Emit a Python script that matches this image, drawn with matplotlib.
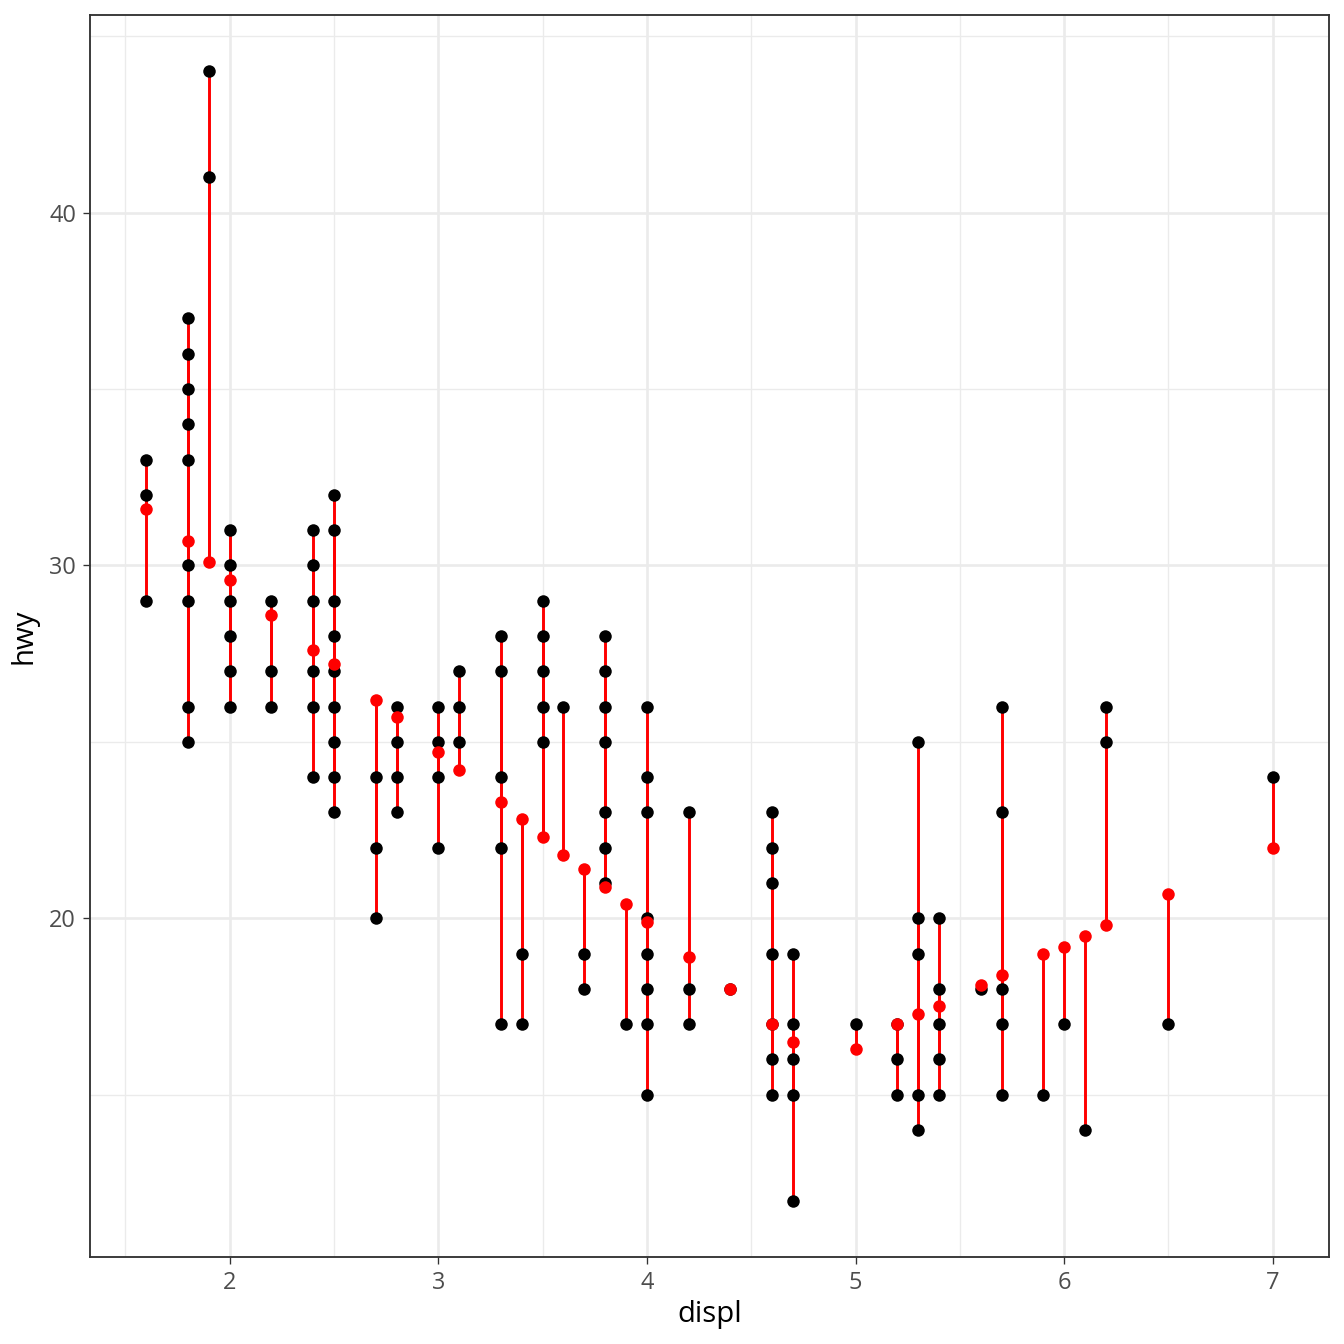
import matplotlib.pyplot as plt

plt.rcParams['font.family'] = ['Open Sans', 'DejaVu Sans']

displ_levels = [1.6, 1.8, 1.9, 2.0, 2.2, 2.4, 2.5, 2.7, 2.8, 3.0, 3.1, 3.3, 3.4, 3.5,
                3.6, 3.7, 3.8, 3.9, 4.0, 4.2, 4.4, 4.6, 4.7, 5.0, 5.2, 5.3, 5.4, 5.6,
                5.7, 5.9, 6.0, 6.1, 6.2, 6.5, 7.0]
hwy_obs = [
    [29, 32, 33],
    [25, 26, 29, 30, 33, 34, 35, 36, 37],
    [41, 44],
    [26, 27, 28, 29, 30, 31],
    [26, 27, 29],
    [24, 26, 27, 29, 30, 31],
    [23, 24, 25, 26, 27, 28, 29, 31, 32],
    [20, 22, 24],
    [23, 24, 25, 26],
    [22, 24, 25, 26],
    [25, 26, 27],
    [17, 22, 24, 27, 28],
    [17, 19],
    [25, 26, 27, 28, 29],
    [26],
    [18, 19],
    [21, 22, 23, 25, 26, 27, 28],
    [17],
    [15, 17, 18, 19, 20, 23, 24, 26],
    [17, 18, 23],
    [18],
    [15, 16, 17, 19, 21, 22, 23],
    [12, 15, 16, 17, 19],
    [17],
    [15, 16, 17],
    [14, 15, 19, 20, 25],
    [15, 16, 17, 18, 20],
    [18],
    [15, 17, 18, 23, 26],
    [15],
    [17],
    [14],
    [25, 26],
    [17],
    [24],
]
# fitted (predicted) hwy at each displacement
hwy_pred = [31.6, 30.7, 30.1, 29.6, 28.6, 27.6, 27.2, 26.2, 25.7, 24.7, 24.2, 23.3,
            22.8, 22.3, 21.8, 21.4, 20.9, 20.4, 19.9, 18.9, 18.0, 17.0, 16.5, 16.3,
            17.0, 17.3, 17.5, 18.1, 18.4, 19.0, 19.2, 19.5, 19.8, 20.7, 22.0]

xs, ys, x_pred, y_pred = [], [], [], []
for d, obs, p in zip(displ_levels, hwy_obs, hwy_pred):
    for h in obs:
        xs.append(d)
        ys.append(h)
        x_pred.append(d)
        y_pred.append(p)

fig = plt.figure(figsize=(7, 7), dpi=192)
ax = fig.add_axes([90 / 1344, 1 - 1257 / 1344, (1329 - 90) / 1344, (1257 - 15) / 1344])

ax.vlines(xs, ys, y_pred, color='red', linewidth=1.1, zorder=3)
ax.scatter(xs, ys, s=22, color='black', linewidths=0, zorder=4)
ax.scatter(displ_levels, hwy_pred, s=22, color='red', linewidths=0, zorder=5)

ax.set_xlim(1.33, 7.27)
ax.set_ylim(10.4, 45.6)
ax.set_xticks([2, 3, 4, 5, 6, 7])
ax.set_yticks([20, 30, 40])
ax.set_xticks([1.5, 2.5, 3.5, 4.5, 5.5, 6.5], minor=True)
ax.set_yticks([15, 25, 35, 45], minor=True)
ax.grid(which='major', color='#EBEBEB', linewidth=1.0, zorder=0)
ax.grid(which='minor', color='#EBEBEB', linewidth=0.5, zorder=0)
ax.set_axisbelow(True)
ax.tick_params(which='major', colors='#333333', labelsize=8.8, length=2.75, width=0.5,
               labelcolor='#4D4D4D', pad=2.5)
ax.tick_params(which='minor', length=0)
for s in ax.spines.values():
    s.set_color('#333333')
    s.set_linewidth(0.7)

ax.set_xlabel('displ', fontsize=11, labelpad=2)
ax.set_ylabel('hwy', fontsize=11, labelpad=4)

fig.savefig('out.png', dpi=192)
